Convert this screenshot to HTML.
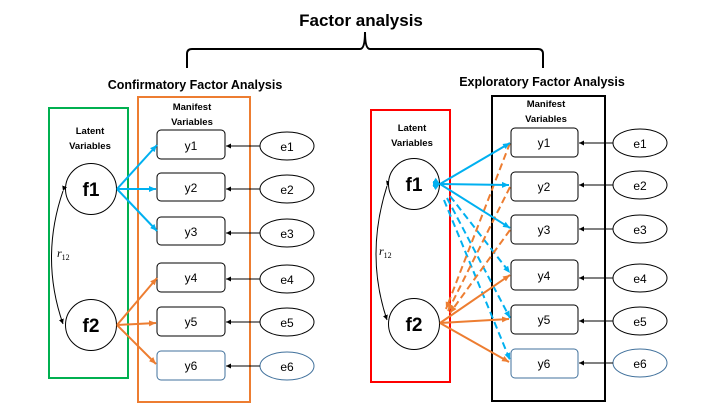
<!DOCTYPE html>
<html><head><style>
html,body{margin:0;padding:0;background:#fff;}
svg{display:block;font-family:"Liberation Sans",Arial,sans-serif;}
</style></head><body>
<svg width="720" height="405" viewBox="0 0 720 405" xmlns="http://www.w3.org/2000/svg">
<defs>
<marker id="ab" markerWidth="8" markerHeight="8" refX="7" refY="4" orient="auto" markerUnits="userSpaceOnUse"><path d="M0,1 L7,4 L0,7 z" fill="#00b0f0"/></marker>
<marker id="ao" markerWidth="8" markerHeight="8" refX="7" refY="4" orient="auto" markerUnits="userSpaceOnUse"><path d="M0,1 L7,4 L0,7 z" fill="#ed7d31"/></marker>
<marker id="ak" markerWidth="6" markerHeight="6" refX="5" refY="3" orient="auto" markerUnits="userSpaceOnUse"><path d="M0,0.5 L5,3 L0,5.5 z" fill="#000"/></marker>
</defs>
<text x="361" y="26" font-size="17" font-weight="bold" text-anchor="middle">Factor analysis</text>
<path d="M187,68 L187,54 Q187,49 192,49 L360,49 Q365,49 365,32 Q365,49 370,49 L538,49 Q543,49 543,54 L543,68" fill="none" stroke="#000" stroke-width="2"/>

<!-- LEFT -->
<text x="195" y="89" font-size="12.5" font-weight="bold" text-anchor="middle">Confirmatory Factor Analysis</text>
<rect x="49" y="108" width="79" height="270" fill="none" stroke="#00b050" stroke-width="2"/>
<rect x="138" y="97" width="112" height="305" fill="none" stroke="#ed7d31" stroke-width="2"/>
<text x="90" y="134" font-size="9.5" font-weight="bold" text-anchor="middle">Latent</text>
<text x="90" y="149" font-size="9.5" font-weight="bold" text-anchor="middle">Variables</text>
<text x="192" y="110" font-size="9.5" font-weight="bold" text-anchor="middle">Manifest</text>
<text x="192" y="125" font-size="9.5" font-weight="bold" text-anchor="middle">Variables</text>
<circle cx="91" cy="189" r="25.5" fill="#fff" stroke="#000" stroke-width="1"/>
<circle cx="91" cy="325" r="25.5" fill="#fff" stroke="#000" stroke-width="1"/>
<text x="91" y="196" font-size="19" font-weight="bold" text-anchor="middle">f1</text>
<text x="91" y="332" font-size="19" font-weight="bold" text-anchor="middle">f2</text>
<path d="M63,191 Q40,258 63,324" fill="none" stroke="#000" stroke-width="1" marker-start="url(#ak)" marker-end="url(#ak)"/>
<text x="57" y="257" font-size="12" font-style="italic" font-family="Liberation Serif,serif">r<tspan font-size="8" font-style="normal" dy="3">12</tspan></text>
<g font-size="12" text-anchor="middle">
<rect x="157" y="130" width="68" height="29" rx="4" fill="#fff" stroke="#000"/><text x="191" y="150">y1</text>
<rect x="157" y="173" width="68" height="28" rx="4" fill="#fff" stroke="#000"/><text x="191" y="192">y2</text>
<rect x="157" y="217" width="68" height="28" rx="4" fill="#fff" stroke="#000"/><text x="191" y="236">y3</text>
<rect x="157" y="263" width="68" height="29" rx="4" fill="#fff" stroke="#000"/><text x="191" y="282">y4</text>
<rect x="157" y="307" width="68" height="29" rx="4" fill="#fff" stroke="#000"/><text x="191" y="326">y5</text>
<rect x="157" y="351" width="68" height="29" rx="4" fill="#fff" stroke="#41719c"/><text x="191" y="370">y6</text>
<ellipse cx="287" cy="146" rx="27" ry="14" fill="#fff" stroke="#000"/><text x="287" y="151">e1</text>
<ellipse cx="287" cy="189" rx="27" ry="14" fill="#fff" stroke="#000"/><text x="287" y="194">e2</text>
<ellipse cx="287" cy="233" rx="27" ry="14" fill="#fff" stroke="#000"/><text x="287" y="238">e3</text>
<ellipse cx="287" cy="279" rx="27" ry="14" fill="#fff" stroke="#000"/><text x="287" y="284">e4</text>
<ellipse cx="287" cy="322" rx="27" ry="14" fill="#fff" stroke="#000"/><text x="287" y="327">e5</text>
<ellipse cx="287" cy="366" rx="27" ry="14" fill="#fff" stroke="#41719c"/><text x="287" y="371">e6</text>
</g>
<g stroke="#000" stroke-width="1" marker-end="url(#ak)">
<line x1="260" y1="146" x2="226" y2="146"/><line x1="260" y1="189" x2="226" y2="189"/><line x1="260" y1="233" x2="226" y2="233"/>
<line x1="260" y1="279" x2="226" y2="279"/><line x1="260" y1="322" x2="226" y2="322"/><line x1="260" y1="366" x2="226" y2="366"/>
</g>
<g stroke="#00b0f0" stroke-width="2" marker-end="url(#ab)">
<line x1="117" y1="189" x2="157" y2="145"/><line x1="117" y1="189" x2="156" y2="189"/><line x1="117" y1="189" x2="157" y2="231"/>
</g>
<g stroke="#ed7d31" stroke-width="2" marker-end="url(#ao)">
<line x1="117" y1="325" x2="157" y2="278"/><line x1="117" y1="325" x2="156" y2="323"/><line x1="117" y1="325" x2="156" y2="364"/>
</g>

<!-- RIGHT -->
<text x="542" y="86" font-size="12.5" font-weight="bold" text-anchor="middle">Exploratory Factor Analysis</text>
<rect x="371" y="110" width="79" height="272" fill="none" stroke="#ff0000" stroke-width="2"/>
<rect x="492" y="96" width="113" height="305" fill="none" stroke="#000" stroke-width="2"/>
<text x="412" y="131" font-size="9.5" font-weight="bold" text-anchor="middle">Latent</text>
<text x="412" y="146" font-size="9.5" font-weight="bold" text-anchor="middle">Variables</text>
<text x="546" y="107" font-size="9.5" font-weight="bold" text-anchor="middle">Manifest</text>
<text x="546" y="122" font-size="9.5" font-weight="bold" text-anchor="middle">Variables</text>
<path d="M387,186 Q365,255 387,320" fill="none" stroke="#000" stroke-width="1" marker-start="url(#ak)" marker-end="url(#ak)"/>
<text x="379" y="255" font-size="12" font-style="italic" font-family="Liberation Serif,serif">r<tspan font-size="8" font-style="normal" dy="3">12</tspan></text>
<g stroke="#00b0f0" stroke-width="2" stroke-dasharray="7,4" marker-end="url(#ab)">
<line x1="450" y1="196" x2="510" y2="273"/><line x1="447" y1="198" x2="510" y2="318"/><line x1="444" y1="200" x2="510" y2="360"/>
</g>
<g stroke="#ed7d31" stroke-width="2" stroke-dasharray="7,4" marker-end="url(#ao)">
<line x1="510" y1="143" x2="446" y2="309"/><line x1="510" y1="187" x2="448" y2="311"/><line x1="510" y1="230" x2="450" y2="313"/>
</g>
<circle cx="414" cy="184" r="25.5" fill="#fff" stroke="#000" stroke-width="1"/>
<circle cx="414" cy="324" r="25.5" fill="#fff" stroke="#000" stroke-width="1"/>
<text x="414" y="191" font-size="19" font-weight="bold" text-anchor="middle">f1</text>
<text x="414" y="331" font-size="19" font-weight="bold" text-anchor="middle">f2</text>
<g stroke="#00b0f0" stroke-width="2" marker-end="url(#ab)" marker-start="url(#ab)">
<line x1="440" y1="184" x2="510" y2="143"/><line x1="440" y1="184" x2="509" y2="185"/><line x1="440" y1="184" x2="510" y2="228"/>
</g>
<g stroke="#ed7d31" stroke-width="2" marker-end="url(#ao)">
<line x1="440" y1="323" x2="510" y2="275"/><line x1="440" y1="323" x2="509" y2="319"/><line x1="440" y1="323" x2="509" y2="362"/>
</g>
<g font-size="12" text-anchor="middle">
<rect x="511" y="128" width="67" height="29" rx="4" fill="#fff" stroke="#000"/><text x="544" y="147">y1</text>
<rect x="511" y="172" width="67" height="29" rx="4" fill="#fff" stroke="#000"/><text x="544" y="191">y2</text>
<rect x="511" y="215" width="67" height="29" rx="4" fill="#fff" stroke="#000"/><text x="544" y="234">y3</text>
<rect x="511" y="260" width="67" height="30" rx="4" fill="#fff" stroke="#000"/><text x="544" y="280">y4</text>
<rect x="511" y="305" width="67" height="29" rx="4" fill="#fff" stroke="#000"/><text x="544" y="324">y5</text>
<rect x="511" y="349" width="67" height="29" rx="4" fill="#fff" stroke="#41719c"/><text x="544" y="368">y6</text>
<ellipse cx="640" cy="143" rx="27" ry="14" fill="#fff" stroke="#000"/><text x="640" y="148">e1</text>
<ellipse cx="640" cy="185" rx="27" ry="14" fill="#fff" stroke="#000"/><text x="640" y="190">e2</text>
<ellipse cx="640" cy="229" rx="27" ry="14" fill="#fff" stroke="#000"/><text x="640" y="234">e3</text>
<ellipse cx="640" cy="278" rx="27" ry="14" fill="#fff" stroke="#000"/><text x="640" y="283">e4</text>
<ellipse cx="640" cy="321" rx="27" ry="14" fill="#fff" stroke="#000"/><text x="640" y="326">e5</text>
<ellipse cx="640" cy="363" rx="27" ry="14" fill="#fff" stroke="#41719c"/><text x="640" y="368">e6</text>
</g>
<g stroke="#000" stroke-width="1" marker-end="url(#ak)">
<line x1="613" y1="143" x2="579" y2="143"/><line x1="613" y1="185" x2="579" y2="185"/><line x1="613" y1="229" x2="579" y2="229"/>
<line x1="613" y1="278" x2="579" y2="278"/><line x1="613" y1="321" x2="579" y2="321"/><line x1="613" y1="363" x2="579" y2="363"/>
</g>
</svg>
</body></html>
